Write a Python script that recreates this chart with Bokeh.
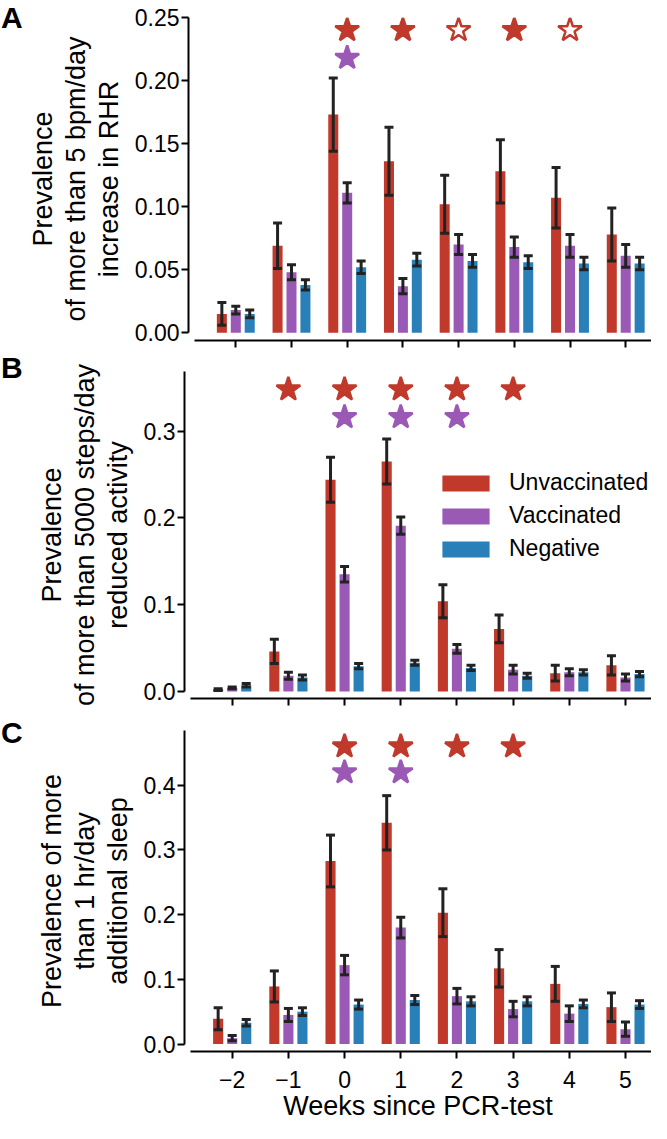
import numpy as np
from bokeh.plotting import figure
from bokeh.models import (ColumnDataSource, Whisker, TeeHead, FixedTicker,
                          NumeralTickFormatter, Legend, LegendItem, Range1d, Div)
from bokeh.layouts import column, row
from bokeh.embed import file_html
from bokeh.resources import INLINE

FONT = "Liberation Sans"

weeks = [-2, -1, 0, 1, 2, 3, 4, 5]
week_labels = ["\u22122", "\u22121", "0", "1", "2", "3", "4", "5"]
groups = ["Unvaccinated", "Vaccinated", "Negative"]
colors = ["#c0392b", "#9b59b6", "#2980b9"]

# Panel A: resting heart rate
rhr_unvax = [0.015, 0.069, 0.173, 0.136, 0.102, 0.128, 0.107, 0.078]
rhr_vax = [0.018, 0.048, 0.111, 0.037, 0.070, 0.068, 0.069, 0.061]
rhr_neg = [0.015, 0.038, 0.052, 0.058, 0.057, 0.056, 0.055, 0.055]
rhr_unvax_err = [0.009, 0.018, 0.029, 0.027, 0.023, 0.025, 0.024, 0.021]
rhr_vax_err = [0.003, 0.006, 0.008, 0.006, 0.008, 0.008, 0.009, 0.009]
rhr_neg_err = [0.003, 0.004, 0.005, 0.005, 0.005, 0.005, 0.005, 0.005]

# Panel B: steps
act_unvax = [0.002, 0.046, 0.244, 0.265, 0.104, 0.072, 0.021, 0.030]
act_vax = [0.004, 0.018, 0.135, 0.191, 0.049, 0.025, 0.022, 0.016]
act_neg = [0.007, 0.016, 0.029, 0.033, 0.027, 0.018, 0.022, 0.020]
act_unvax_err = [0.001, 0.014, 0.026, 0.026, 0.019, 0.016, 0.009, 0.011]
act_vax_err = [0.001, 0.004, 0.009, 0.010, 0.005, 0.005, 0.004, 0.004]
act_neg_err = [0.002, 0.003, 0.003, 0.003, 0.003, 0.003, 0.003, 0.003]

# Panel C: sleep
slp_unvax = [0.039, 0.089, 0.283, 0.342, 0.203, 0.117, 0.093, 0.057]
slp_vax = [0.009, 0.045, 0.122, 0.180, 0.074, 0.054, 0.047, 0.023]
slp_neg = [0.033, 0.050, 0.061, 0.068, 0.066, 0.066, 0.062, 0.061]
slp_unvax_err = [0.017, 0.024, 0.040, 0.042, 0.037, 0.029, 0.027, 0.022]
slp_vax_err = [0.004, 0.010, 0.015, 0.016, 0.012, 0.012, 0.012, 0.011]
slp_neg_err = [0.005, 0.006, 0.007, 0.007, 0.007, 0.007, 0.006, 0.006]

# significance stars: weeks and whether filled
rhr_star_unvax_weeks = [0, 1, 2, 3, 4]
rhr_star_unvax_filled = [True, True, False, True, False]
rhr_star_vax_weeks = [0]
act_star_unvax_weeks = [-1, 0, 1, 2, 3]
act_star_vax_weeks = [0, 1, 2]
slp_star_unvax_weeks = [0, 1, 2, 3]
slp_star_vax_weeks = [0, 1]

OFFSETS = [-0.25, 0.0, 0.25]
BAR_W = 0.18
X_START, X_END = -2.849, 5.463
ERR_COLOR = "#222222"


def make_panel(ylabel, vals, errs, yrange, ybounds, yticks, yfmt,
               height, top, bottom, stars, star_y, show_xlabels):
    p = figure(width=627, height=height, output_backend="svg", toolbar_location=None,
               x_range=Range1d(X_START, X_END), y_range=Range1d(*yrange),
               min_border_left=160, min_border_right=0, min_border_top=top,
               min_border_bottom=bottom)
    p.outline_line_color = None
    p.grid.visible = False
    p.background_fill_color = "white"

    renderers = []
    for vs, es, off, col in zip(vals, errs, OFFSETS, colors):
        src = ColumnDataSource(dict(
            x=[w + off for w in weeks], top=vs,
            upper=[v + e for v, e in zip(vs, es)],
            lower=[v - e for v, e in zip(vs, es)]))
        r = p.vbar(x="x", top="top", width=BAR_W, bottom=0, source=src,
                   fill_color=col, line_color=None)
        renderers.append(r)
        wk = Whisker(source=src, base="x", upper="upper", lower="lower",
                     line_color=ERR_COLOR, line_width=3, level="overlay",
                     upper_head=TeeHead(size=9, line_width=3, line_color=ERR_COLOR),
                     lower_head=TeeHead(size=9, line_width=3, line_color=ERR_COLOR))
        p.add_layout(wk)

    for (sweeks, sfilled, col), sy in zip(stars, star_y):
        fills = [col if f else "white" for f in sfilled]
        p.scatter(x=sweeks, y=[sy] * len(sweeks), marker="star", size=25,
                  fill_color=fills, line_color=col, line_width=2.5)

    xa = p.xaxis[0]
    xa.ticker = FixedTicker(ticks=weeks)
    if show_xlabels:
        xa.major_label_overrides = {w: l for w, l in zip(weeks, week_labels)}
    else:
        xa.major_label_overrides = {w: "" for w in weeks}
    xa.bounds = (-2.742, X_END)
    xa.axis_line_width = 2
    xa.axis_line_color = "black"
    xa.major_tick_line_width = 2
    xa.major_tick_line_color = "black"
    xa.major_tick_in = 0
    xa.major_tick_out = 7
    xa.minor_tick_line_color = None
    xa.major_label_text_font = FONT
    xa.major_label_text_font_size = "23px"
    xa.major_label_text_color = "black"
    xa.major_label_standoff = 12
    if show_xlabels:
        xa.axis_label = "Weeks since PCR-test"
        xa.axis_label_text_font = FONT
        xa.axis_label_text_font_size = "27px"
        xa.axis_label_text_font_style = "normal"
        xa.axis_label_text_color = "black"
        xa.axis_label_standoff = 0

    ya = p.yaxis[0]
    ya.ticker = FixedTicker(ticks=yticks)
    ya.formatter = NumeralTickFormatter(format=yfmt)
    ya.bounds = ybounds
    ya.axis_line_width = 2
    ya.axis_line_color = "black"
    ya.major_tick_line_width = 2
    ya.major_tick_line_color = "black"
    ya.major_tick_in = 0
    ya.major_tick_out = 7
    ya.minor_tick_line_color = None
    ya.major_label_text_font = FONT
    ya.major_label_text_font_size = "23px"
    ya.major_label_text_color = "black"
    ya.major_label_standoff = 2
    ya.axis_label = ylabel
    ya.axis_label_text_font = FONT
    ya.axis_label_text_font_size = "27px"
    ya.axis_label_text_font_style = "normal"
    ya.axis_label_text_color = "black"
    ya.axis_label_text_line_height = 1.1
    ya.axis_label_standoff = 8
    return p, renderers


def letter(text):
    return Div(text=text, width=24, height=40, margin=(1, 0, 0, 0),
               styles={"font-family": FONT, "font-size": "30px",
                       "font-weight": "bold", "line-height": "34px",
                       "padding-left": "1px", "color": "black"})


pA, _ = make_panel(
    "Prevalence\nof more than 5 bpm/day\nincrease in RHR",
    [rhr_unvax, rhr_vax, rhr_neg], [rhr_unvax_err, rhr_vax_err, rhr_neg_err],
    (-0.0061, 0.25), (0, 0.25), [0, 0.05, 0.10, 0.15, 0.20, 0.25], "0.00",
    350, 17, 10,
    [(rhr_star_unvax_weeks, rhr_star_unvax_filled, colors[0]),
     (rhr_star_vax_weeks, [True] * len(rhr_star_vax_weeks), colors[1])],
    [0.240, 0.218], False)

pB, rB = make_panel(
    "Prevalence\nof more than 5000 steps/day\nreduced activity",
    [act_unvax, act_vax, act_neg], [act_unvax_err, act_vax_err, act_neg_err],
    (-0.0082, 0.3687), (0, 0.3687), [0, 0.1, 0.2, 0.3], "0.0",
    365, 21, 17,
    [(act_star_unvax_weeks, [True] * len(act_star_unvax_weeks), colors[0]),
     (act_star_vax_weeks, [True] * len(act_star_vax_weeks), colors[1])],
    [0.348, 0.316], False)

legend = Legend(items=[LegendItem(label=g, renderers=[r]) for g, r in zip(groups, rB)],
                location=(252, 136), orientation="vertical",
                glyph_width=59, glyph_height=20, label_standoff=14,
                label_text_font=FONT, label_text_font_size="23px",
                label_text_color="black",
                label_height=20, spacing=6, padding=0, margin=0,
                border_line_color=None, background_fill_alpha=0)
pB.add_layout(legend)

pC, _ = make_panel(
    "Prevalence of more\nthan 1 hr/day\nadditional sleep",
    [slp_unvax, slp_vax, slp_neg], [slp_unvax_err, slp_vax_err, slp_neg_err],
    (-0.01156, 0.4847), (0, 0.4847), [0, 0.1, 0.2, 0.3, 0.4], "0.0",
    408, 15, 67,
    [(slp_star_unvax_weeks, [True] * len(slp_star_unvax_weeks), colors[0]),
     (slp_star_vax_weeks, [True] * len(slp_star_vax_weeks), colors[1])],
    [0.46, 0.42], True)

layout = column(row(letter("A"), pA, spacing=0),
                row(letter("B"), pB, spacing=0),
                row(letter("C"), pC, spacing=0), spacing=0)

open("out.html", "w").write(file_html(layout, INLINE))
